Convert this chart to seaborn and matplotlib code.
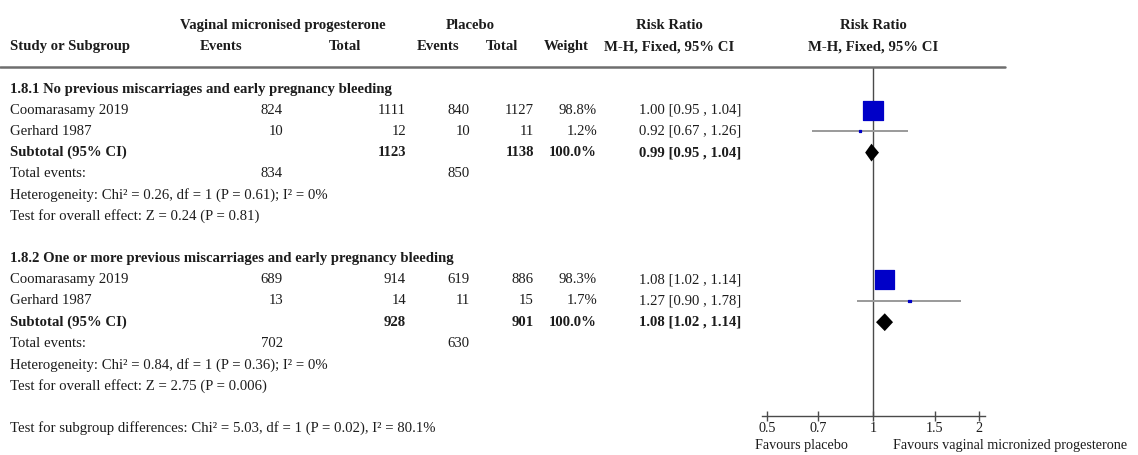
import numpy as np
import pandas as pd
import matplotlib
matplotlib.use("Agg")
import matplotlib.pyplot as plt
from matplotlib.lines import Line2D
from matplotlib.ticker import FixedLocator, NullLocator
import seaborn as sns

# ---- data -------------------------------------------------------------
group_titles = [
    "1.8.1 No previous miscarriages and early pregnancy bleeding",
    "1.8.2 One or more previous miscarriages and early pregnancy bleeding",
]
study_names = ["Coomarasamy 2019", "Gerhard 1987", "Coomarasamy 2019", "Gerhard 1987"]
study_group = [0, 0, 1, 1]
exp_events = [824, 10, 689, 13]
exp_total = [1111, 12, 914, 14]
pla_events = [840, 10, 619, 11]
pla_total = [1127, 11, 886, 15]
weights = [98.8, 1.2, 98.3, 1.7]
rr = [1.00, 0.92, 1.08, 1.27]
rr_lo = [0.95, 0.67, 1.02, 0.90]
rr_hi = [1.04, 1.26, 1.14, 1.78]

sub_exp_total = [1123, 928]
sub_pla_total = [1138, 901]
sub_weight = [100.0, 100.0]
sub_rr = [0.99, 1.08]
sub_lo = [0.95, 1.02]
sub_hi = [1.04, 1.14]
sub_exp_events = [834, 702]
sub_pla_events = [850, 630]
heterogeneity = [
    "Heterogeneity: Chi² = 0.26, df = 1 (P = 0.61); I² = 0%",
    "Heterogeneity: Chi² = 0.84, df = 1 (P = 0.36); I² = 0%",
]
overall_effect = [
    "Test for overall effect: Z = 0.24 (P = 0.81)",
    "Test for overall effect: Z = 2.75 (P = 0.006)",
]
subgroup_diff = "Test for subgroup differences: Chi² = 5.03, df = 1 (P = 0.02), I² = 80.1%"

axis_ticks = [0.5, 0.7, 1, 1.5, 2]
axis_ticklabels = ["0.5", "0.7", "1", "1.5", "2"]
favours_left = "Favours placebo"
favours_right = "Favours vaginal micronized progesterone"

# ---- style ------------------------------------------------------------
sns.set_theme(style="white")
plt.rcParams["font.family"] = ["Liberation Serif", "DejaVu Serif"]
TXT = "#1c1c1c"
FS = 10.6
BLUE = "#0000c8"

W, H = 1138, 455
fig = plt.figure(figsize=(W / 100, H / 100), dpi=100)
fig.patch.set_facecolor("white")

# table layer in pixel units
tab = fig.add_axes([0, 0, 1, 1])
tab.set_xlim(0, W)
tab.set_ylim(H, 0)
tab.axis("off")

ROW0, ROWH = 89.0, 21.2


def ypx(row):
    return ROW0 + ROWH * row


def put(x, row, s, ha="left", bold=False, **kw):
    tab.text(x, ypx(row), s, ha=ha, va="center", fontsize=FS, color=TXT,
             fontweight="bold" if bold else "normal", **kw)


# column anchors (pixels)
X_NAME, X_EE, X_ET, X_PE, X_PT, X_W, X_RR = 10, 283, 406, 470, 534, 597, 741

# headers
put(283, -3, "Vaginal micronised progesterone", ha="center", bold=True)
put(470, -3, "Placebo", ha="center", bold=True)
put(669, -3, "Risk Ratio", ha="center", bold=True)
put(873, -3, "Risk Ratio", ha="center", bold=True)
put(X_NAME, -2, "Study or Subgroup", bold=True)
put(221, -2, "Events", ha="center", bold=True)
put(345, -2, "Total", ha="center", bold=True)
put(438, -2, "Events", ha="center", bold=True)
put(502, -2, "Total", ha="center", bold=True)
put(566, -2, "Weight", ha="center", bold=True)
put(669, -2, "M-H, Fixed, 95% CI", ha="center", bold=True)
put(873, -2, "M-H, Fixed, 95% CI", ha="center", bold=True)

fig.add_artist(Line2D([0, 1005 / W], [1 - 66.5 / H, 1 - 66.5 / H],
                      transform=fig.transFigure, color="#6e6e6e", lw=1.8))

# row layout for each study / subgroup
group_start = [0, 8]
study_rows = []
for g in range(2):
    base = group_start[g]
    put(X_NAME, base, group_titles[g], bold=True)
    idx = [i for i, gg in enumerate(study_group) if gg == g]
    for k, i in enumerate(idx):
        r = base + 1 + k
        study_rows.append(r)
        put(X_NAME, r, study_names[i])
        put(X_EE, r, f"{exp_events[i]}", ha="right")
        put(X_ET, r, f"{exp_total[i]}", ha="right")
        put(X_PE, r, f"{pla_events[i]}", ha="right")
        put(X_PT, r, f"{pla_total[i]}", ha="right")
        put(X_W, r, f"{weights[i]:.1f}%", ha="right")
        put(X_RR, r, f"{rr[i]:.2f} [{rr_lo[i]:.2f} , {rr_hi[i]:.2f}]", ha="right")
    rs = base + 1 + len(idx)
    put(X_NAME, rs, "Subtotal (95% CI)", bold=True)
    put(X_ET, rs, f"{sub_exp_total[g]}", ha="right", bold=True)
    put(X_PT, rs, f"{sub_pla_total[g]}", ha="right", bold=True)
    put(X_W, rs, f"{sub_weight[g]:.1f}%", ha="right", bold=True)
    put(X_RR, rs, f"{sub_rr[g]:.2f} [{sub_lo[g]:.2f} , {sub_hi[g]:.2f}]", ha="right", bold=True)
    put(X_NAME, rs + 1, "Total events:")
    put(X_EE, rs + 1, f"{sub_exp_events[g]}", ha="right")
    put(X_PE, rs + 1, f"{sub_pla_events[g]}", ha="right")
    put(X_NAME, rs + 2, heterogeneity[g])
    put(X_NAME, rs + 3, overall_effect[g])
put(X_NAME, 16, subgroup_diff)

# ---- forest panel -----------------------------------------------------
top_px, bot_px, left_px, right_px = 67, 416, 762, 985
fx = fig.add_axes([left_px / W, 1 - bot_px / H, (right_px - left_px) / W, (bot_px - top_px) / H])
fx.patch.set_alpha(0)
fx.set_xscale("log")
fx.set_xlim(0.484, 2.08)
fx.set_ylim((bot_px - ROW0) / ROWH, (top_px - ROW0) / ROWH)
for side in ["top", "right", "left"]:
    fx.spines[side].set_visible(False)
fx.spines["bottom"].set_color("#4a4a4a")
fx.spines["bottom"].set_linewidth(1.0)
fx.xaxis.set_major_locator(FixedLocator(axis_ticks))
fx.xaxis.set_minor_locator(NullLocator())
fx.set_xticklabels(axis_ticklabels)
fx.tick_params(axis="x", direction="inout", length=7, width=1.0, color="#4a4a4a",
               labelsize=10.2, labelcolor=TXT, pad=1.0, bottom=True)
fx.set_yticks([])
fx.grid(False)

fx.axvline(1, color="#4a4a4a", lw=1.0, zorder=1)

df = pd.DataFrame({"rr": rr, "lo": rr_lo, "hi": rr_hi, "w": weights, "row": study_rows})
fx.hlines(df["row"], df["lo"], df["hi"], color="#9a9a9a", lw=1.4, zorder=2)
sns.scatterplot(data=df, x="rr", y="row", size="w", sizes=(0, 195), size_norm=(0, 100),
                marker="s", color=BLUE, edgecolor=BLUE, linewidth=0.9,
                legend=False, ax=fx, zorder=3)

sub_rows = [group_start[g] + 3 for g in range(2)]
for g in range(2):
    yy = sub_rows[g]
    half = 0.42
    fx.fill([sub_lo[g], sub_rr[g], sub_hi[g], sub_rr[g]],
            [yy, yy - half, yy, yy + half], color="black", zorder=4, lw=0)
fx.set_xlabel("")
fx.set_ylabel("")

FAV_FS = 10.2
fig.text(755 / W, 1 - 445 / H, favours_left, ha="left", va="center", fontsize=FAV_FS, color=TXT)
fig.text(893 / W, 1 - 445 / H, favours_right, ha="left", va="center", fontsize=FAV_FS, color=TXT)

fig.savefig("out.png", dpi=100, facecolor="white")
